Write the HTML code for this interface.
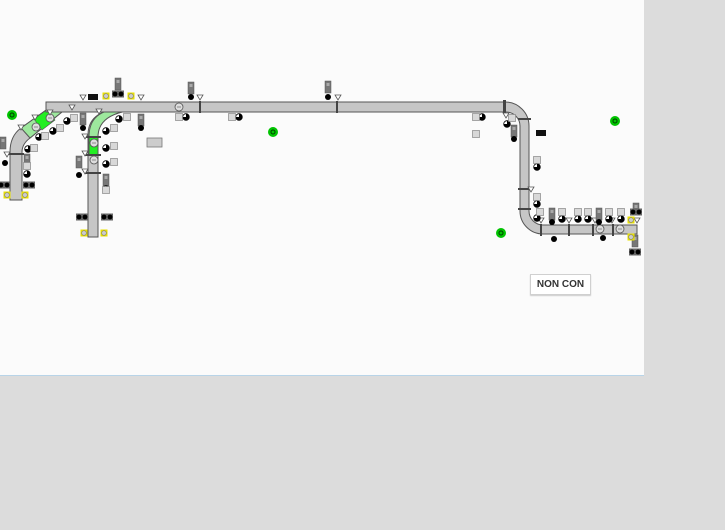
<!DOCTYPE html>
<html><head><meta charset="utf-8"><style>
html,body{margin:0;padding:0;width:725px;height:530px;overflow:hidden;background:#dcdcdc;font-family:"Liberation Sans",sans-serif}
#w{position:absolute;left:0;top:0;width:644px;height:375px;background:#fbfbfb;border-bottom:1px solid #b8d4e8}
svg{position:absolute;left:0;top:0}
#btn{position:absolute;left:530px;top:274px;width:59px;height:19px;background:#fff;border:1px solid #d0d0d0;box-shadow:0 1px 1px #ccc;font-size:10px;font-weight:bold;color:#333;text-align:center;line-height:19px}
</style></head><body>
<div id="w"></div>
<svg width="725" height="530" viewBox="0 0 725 530">
<defs>
<g id="ball"><circle r="3.3" fill="#fff" stroke="#000" stroke-width=".8"/><path d="M0,-3.3A3.3,3.3 0 0 1 0,3.3Z" fill="#000"/><path d="M0,0L-3.3,0A3.3,3.3 0 0 0 0,3.3Z" fill="#000"/></g>
<g id="dot"><circle r="3" fill="#000"/></g>
<g id="box"><rect x="-3.5" y="-3.5" width="7" height="7" fill="#d8d8d8" stroke="#888" stroke-width=".7"/></g>
<g id="tag"><rect x="-3" y="-6" width="6" height="12" fill="#777" stroke="#555" stroke-width=".5"/><rect x="-1.5" y="-4" width="3" height="3" fill="#aaa"/></g>
<g id="yel"><rect x="-3.5" y="-3.5" width="7" height="7" fill="#e8e000"/><circle r="2.3" fill="#ccc" stroke="#777" stroke-width=".6"/></g>
<g id="pair"><rect x="-6" y="-3.5" width="12" height="7" fill="#666"/><circle cx="-3" r="2.4" fill="#000"/><circle cx="3" r="2.4" fill="#000"/></g>
<g id="tri"><path d="M-3,-3L3,-3L0,2Z" fill="#fff" stroke="#555" stroke-width=".8"/></g>
<g id="grn"><circle r="5" fill="#00c400"/><circle r="2" fill="none" stroke="#004000" stroke-width="1"/></g>
<g id="mot"><circle r="4" fill="#ddd" stroke="#555" stroke-width=".8"/><path d="M-2,0h4" stroke="#555" stroke-width=".6"/></g>
</defs>
<g stroke="#555" stroke-width="1">
<!-- left branch -->
<path d="M10,200 V152 Q10,136 21,128 L56,103 H73 L30,138 Q22,144 22,152 V200 Z" fill="#c6c6c6"/>
<path d="M21,128 L56,103 H73 L30,138 Z" fill="#9de89d"/>
<path d="M34,119 L48,109 L55,120 L42,130 Z" fill="#22ee22" stroke-width=".6"/>
<!-- main pipe -->
<path d="M46,102 H505 A24,24 0 0 1 529,126 V211 A14,14 0 0 0 543,225 H637 V234 H543 A23,23 0 0 1 520,211 V126 A14,14 0 0 0 506,112 H46 Z" fill="#c6c6c6"/>
<!-- second branch -->
<path d="M122,112 Q98,118 98,135 V237 H88 V135 Q88,118 104,112 Z" fill="#c6c6c6"/>
<path d="M122,112 Q98,118 98,137 H89 Q89,118 104,112 Z" fill="#9de89d"/>
<rect x="89" y="137" width="9" height="18" fill="#22ee22"/>
</g>
<!-- flanges -->
<g fill="#444">
<rect x="199" y="101" width="2" height="12"/><rect x="336" y="101" width="2" height="12"/>
<rect x="503" y="100" width="3" height="14"/><rect x="518" y="118" width="13" height="2"/>
<rect x="518" y="188" width="13" height="2"/><rect x="518" y="208" width="13" height="2"/>
<rect x="540" y="224" width="2" height="12"/><rect x="568" y="224" width="2" height="12"/>
<rect x="592" y="224" width="2" height="12"/><rect x="612" y="224" width="2" height="12"/>
<rect x="85" y="154" width="16" height="2"/><rect x="85" y="172" width="16" height="2"/><rect x="85" y="136" width="16" height="2"/>
<rect x="8" y="153" width="16" height="2"/>
</g>
<use href="#mot" x="179" y="107"/><use href="#mot" x="94" y="143"/><use href="#mot" x="94" y="160"/>
<use href="#mot" x="36" y="127"/><use href="#mot" x="50" y="118"/>
<use href="#mot" x="600" y="229"/><use href="#mot" x="620" y="229"/>
<!-- green status -->
<use href="#grn" x="12" y="115"/><use href="#grn" x="273" y="132"/><use href="#grn" x="615" y="121"/><use href="#grn" x="501" y="233"/>
<!-- triangles -->
<use href="#tri" x="83" y="98"/><use href="#tri" x="141" y="98"/><use href="#tri" x="200" y="98"/><use href="#tri" x="338" y="98"/>
<use href="#tri" x="21" y="128"/><use href="#tri" x="35" y="118"/><use href="#tri" x="50" y="113"/><use href="#tri" x="72" y="108"/><use href="#tri" x="99" y="112"/>
<use href="#tri" x="506" y="116"/><use href="#tri" x="541" y="221"/><use href="#tri" x="569" y="221"/><use href="#tri" x="595" y="221"/><use href="#tri" x="612" y="221"/><use href="#tri" x="637" y="221"/>
<use href="#tri" x="7" y="155"/><use href="#tri" x="85" y="137"/><use href="#tri" x="85" y="154"/><use href="#tri" x="85" y="172"/><use href="#tri" x="531" y="190"/>
<!-- tags -->
<use href="#tag" x="118" y="84"/><use href="#tag" x="191" y="88"/><use href="#tag" x="328" y="87"/>
<use href="#tag" x="83" y="119"/><use href="#tag" x="141" y="120"/><use href="#tag" x="3" y="143"/><use href="#tag" x="27" y="160"/>
<use href="#tag" x="79" y="162"/><use href="#tag" x="106" y="180"/><use href="#tag" x="514" y="131"/>
<use href="#tag" x="552" y="214"/><use href="#tag" x="599" y="214"/><use href="#tag" x="636" y="209"/><use href="#tag" x="635" y="241"/>
<!-- dots -->
<use href="#dot" x="191" y="97"/><use href="#dot" x="328" y="97"/><use href="#dot" x="83" y="128"/><use href="#dot" x="141" y="128"/>
<use href="#dot" x="5" y="163"/><use href="#dot" x="79" y="175"/><use href="#dot" x="514" y="139"/><use href="#dot" x="554" y="239"/><use href="#dot" x="603" y="238"/>
<use href="#dot" x="552" y="222"/><use href="#dot" x="599" y="222"/>
<!-- balls -->
<use href="#ball" x="186" y="117"/><use href="#ball" x="239" y="117"/><use href="#ball" x="482" y="117"/><use href="#ball" x="507" y="124"/>
<use href="#ball" x="67" y="121"/><use href="#ball" x="53" y="131"/><use href="#ball" x="39" y="137"/><use href="#ball" x="28" y="149"/><use href="#ball" x="27" y="174"/>
<use href="#ball" x="119" y="119"/><use href="#ball" x="106" y="131"/><use href="#ball" x="106" y="148"/><use href="#ball" x="106" y="164"/><use href="#ball" x="106" y="189"/>
<use href="#ball" x="537" y="167"/><use href="#ball" x="537" y="204"/><use href="#ball" x="537" y="218"/><use href="#ball" x="562" y="219"/><use href="#ball" x="578" y="219"/><use href="#ball" x="588" y="219"/><use href="#ball" x="609" y="219"/><use href="#ball" x="621" y="219"/>
<!-- boxes -->
<use href="#box" x="179" y="117"/><use href="#box" x="232" y="117"/><use href="#box" x="476" y="117"/><use href="#box" x="476" y="134"/>
<use href="#box" x="74" y="118"/><use href="#box" x="60" y="128"/><use href="#box" x="45" y="136"/><use href="#box" x="34" y="148"/><use href="#box" x="27" y="166"/>
<use href="#box" x="127" y="117"/><use href="#box" x="114" y="128"/><use href="#box" x="114" y="146"/><use href="#box" x="114" y="162"/><use href="#box" x="106" y="190"/>
<use href="#box" x="537" y="160"/><use href="#box" x="537" y="197"/><use href="#box" x="540" y="212"/><use href="#box" x="562" y="212"/><use href="#box" x="578" y="212"/><use href="#box" x="588" y="212"/><use href="#box" x="609" y="212"/><use href="#box" x="621" y="212"/><use href="#box" x="512" y="118"/>
<rect x="147" y="138" width="15" height="9" fill="#ccc" stroke="#777" stroke-width=".8"/>
<!-- pairs & yellow -->
<use href="#pair" x="118" y="94"/><use href="#pair" x="4" y="185"/><use href="#pair" x="29" y="185"/><use href="#pair" x="82" y="217"/><use href="#pair" x="107" y="217"/>
<use href="#pair" x="636" y="212"/><use href="#pair" x="635" y="252"/>
<use href="#yel" x="106" y="96"/><use href="#yel" x="131" y="96"/><use href="#yel" x="7" y="195"/><use href="#yel" x="25" y="195"/><use href="#yel" x="84" y="233"/><use href="#yel" x="104" y="233"/>
<use href="#yel" x="631" y="220"/><use href="#yel" x="631" y="237"/>
<rect x="88" y="94" width="10" height="6" fill="#111"/><rect x="536" y="130" width="10" height="6" fill="#111"/>
</svg>
<div id="btn">NON CON</div>
</body></html>
